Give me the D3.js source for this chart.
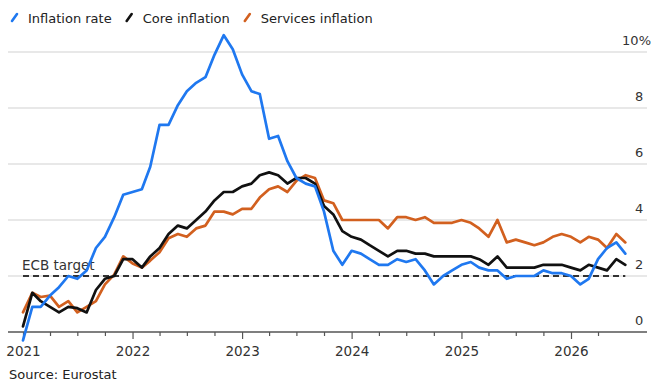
<!DOCTYPE html>
<html>
<head>
<meta charset="utf-8">
<script src="https://cdn.jsdelivr.net/npm/d3@7"></script>
<style>
  html, body { margin: 0; padding: 0; background: #fff; }
  svg { display: block; font-family: "DejaVu Sans", sans-serif; }
</style>
</head>
<body>
<svg id="chart" width="653" height="383"></svg>
<script>
// Monthly readings, % year on year; the first value is plotted at the 2021 tick
const firstMonth = new Date(2021, 0, 1);

const headline = [
  -0.3, 0.9, 0.9, 1.3, 1.6, 2.0, 1.9, 2.2, 3.0, 3.4, 4.1, 4.9, 5.0,
  5.1, 5.9, 7.4, 7.4, 8.1, 8.6, 8.9, 9.1, 9.9, 10.6, 10.1, 9.2,
  8.6, 8.5, 6.9, 7.0, 6.1, 5.5, 5.3, 5.2, 4.3, 2.9, 2.4, 2.9,
  2.8, 2.6, 2.4, 2.4, 2.6, 2.5, 2.6, 2.2, 1.7, 2.0, 2.2, 2.4,
  2.5, 2.3, 2.2, 2.2, 1.9, 2.0, 2.0, 2.0, 2.2, 2.1, 2.1, 2.0,
  1.7, 1.9, 2.6, 3.0, 3.2, 2.8
];
const core = [
  0.2, 1.4, 1.1, 0.9, 0.7, 0.9, 0.85, 0.7, 1.5, 1.9, 2.0, 2.6, 2.6,
  2.3, 2.7, 3.0, 3.5, 3.8, 3.7, 4.0, 4.3, 4.7, 5.0, 5.0, 5.2,
  5.3, 5.6, 5.7, 5.6, 5.3, 5.5, 5.5, 5.3, 4.5, 4.2, 3.6, 3.4,
  3.3, 3.1, 2.9, 2.7, 2.9, 2.9, 2.8, 2.8, 2.7, 2.7, 2.7, 2.7,
  2.7, 2.6, 2.4, 2.7, 2.3, 2.3, 2.3, 2.3, 2.4, 2.4, 2.4, 2.3,
  2.2, 2.4, 2.3, 2.2, 2.6, 2.4
];
const services = [
  0.7, 1.4, 1.25, 1.3, 0.9, 1.1, 0.7, 0.9, 1.1, 1.7, 2.05, 2.7, 2.45,
  2.3, 2.55, 2.85, 3.35, 3.5, 3.4, 3.7, 3.8, 4.3, 4.3, 4.2, 4.4,
  4.4, 4.8, 5.1, 5.2, 5.0, 5.4, 5.6, 5.5, 4.7, 4.6, 4.0, 4.0,
  4.0, 4.0, 4.0, 3.7, 4.1, 4.1, 4.0, 4.1, 3.9, 3.9, 3.9, 4.0,
  3.9, 3.7, 3.4, 4.0, 3.2, 3.3, 3.2, 3.1, 3.2, 3.4, 3.5, 3.4,
  3.2, 3.4, 3.3, 3.0, 3.5, 3.2
];

const seriesNames  = ["Inflation rate", "Core inflation", "Services inflation"];
const seriesColors = ["#1f78f0", "#111111", "#d2601f"];
const yearLabels   = ["2021", "2022", "2023", "2024", "2025", "2026"];
const yTickValues  = [0, 2, 4, 6, 8, 10];
const yTickLabels  = ["0", "2", "4", "6", "8", "10%"];
const targetRate   = 2;
const targetLabel  = "ECB target";
const sourceNote   = "Source: Eurostat";

const dates = headline.map((_, i) => d3.timeMonth.offset(firstMonth, i));

const svg = d3.select("#chart");
const gridLeft = 8, gridRight = 647;

const x = d3.scaleTime()
  .domain([new Date(+yearLabels[0], 0, 1), new Date(+yearLabels[yearLabels.length - 1], 0, 1)])
  .range([23, 571]);
const y = d3.scaleLinear().domain([0, 10]).range([332, 52]);

// horizontal gridlines with right-hand labels sitting above them
svg.append("g").selectAll("line")
  .data(yTickValues.filter(v => v !== 0))
  .join("line")
  .attr("x1", gridLeft).attr("x2", gridRight)
  .attr("y1", d => y(d)).attr("y2", d => y(d))
  .attr("stroke", "#d2d2d2").attr("stroke-width", 1.2);

const lastTick = yTickValues.length - 1;
svg.append("g").selectAll("text")
  .data(yTickValues)
  .join("text")
  .attr("x", (d, i) => i === lastTick ? 651 : 635)
  .attr("text-anchor", (d, i) => i === lastTick ? "end" : "start")
  .attr("y", d => y(d) - 7)
  .attr("font-size", 13)
  .attr("fill", "#333")
  .text((d, i) => yTickLabels[i]);

// x axis: quarterly ticks, years labelled
const quarterTicks = d3.timeMonth.every(3).range(x.domain()[0], d3.timeMonth.offset(dates[dates.length - 1], -2));
const xAxis = d3.axisBottom(x)
  .tickValues(quarterTicks)
  .tickSizeInner(4)
  .tickSizeOuter(0)
  .tickFormat(d => d.getMonth() === 0 ? String(d.getFullYear()) : "");

const axisG = svg.append("g")
  .attr("transform", `translate(0,${y(0)})`)
  .call(xAxis);
axisG.select(".domain").remove();
axisG.selectAll(".tick line")
  .attr("stroke", "#555").attr("stroke-width", 1.2)
  .attr("y2", d => d.getMonth() === 0 ? 7 : 4);
axisG.selectAll(".tick text")
  .attr("y", 14)
  .attr("dy", "0.71em")
  .attr("font-size", 13.5)
  .attr("font-family", "DejaVu Sans, sans-serif")
  .attr("fill", "#333");
svg.append("line")
  .attr("x1", gridLeft).attr("x2", gridRight)
  .attr("y1", y(0)).attr("y2", y(0))
  .attr("stroke", "#555").attr("stroke-width", 1.4);

// target line
svg.append("line")
  .attr("x1", x(dates[0])).attr("x2", x(dates[dates.length - 1]))
  .attr("y1", y(targetRate)).attr("y2", y(targetRate))
  .attr("stroke", "#333").attr("stroke-width", 2)
  .attr("stroke-dasharray", "6,4");
svg.append("text")
  .attr("x", x(dates[0]) - 1)
  .attr("y", y(targetRate) - 6)
  .attr("font-size", 13.5)
  .attr("fill", "#333")
  .text(targetLabel);

// series lines, drawn with the first series on top
const allSeries = [headline, core, services];
const line = d3.line()
  .x((d, i) => x(dates[i]))
  .y(d => y(d));

svg.append("g").selectAll("path")
  .data(allSeries.map((values, k) => ({ values, k })).reverse())
  .join("path")
  .attr("d", d => line(d.values))
  .attr("fill", "none")
  .attr("stroke", d => seriesColors[d.k])
  .attr("stroke-width", 2.7)
  .attr("stroke-linejoin", "round")
  .attr("stroke-linecap", "round");

// legend
const legend = svg.append("g").attr("transform", "translate(12,0)");
let cursor = 0;
seriesNames.forEach((name, k) => {
  const item = legend.append("g").attr("transform", `translate(${cursor},0)`);
  item.append("line")
    .attr("x1", 0).attr("y1", 21).attr("x2", 5).attr("y2", 14)
    .attr("stroke", seriesColors[k]).attr("stroke-width", 2.6)
    .attr("stroke-linecap", "round");
  const t = item.append("text")
    .attr("x", 16).attr("y", 23)
    .attr("font-size", 13)
    .attr("fill", "#222")
    .text(name);
  cursor += 16 + t.node().getComputedTextLength() + 15;
});

// source line
svg.append("text")
  .attr("x", 9).attr("y", 379)
  .attr("font-size", 13)
  .attr("fill", "#222")
  .text(sourceNote);
</script>
</body>
</html>
